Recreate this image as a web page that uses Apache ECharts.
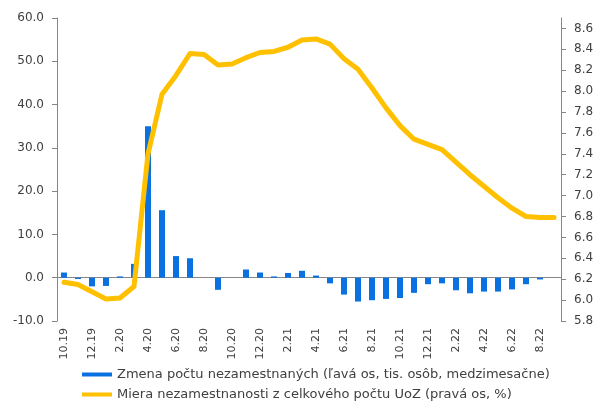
<!DOCTYPE html>
<html>
<head>
<meta charset="utf-8">
<script src="https://cdn.jsdelivr.net/npm/echarts@6/dist/echarts.min.js"></script>
<style>
  html, body { margin: 0; padding: 0; background: #fff; }
  #chart { width: 597px; height: 403px; }
</style>
</head>
<body>
<div id="chart"></div>
<script>
const months = ['10.19','11.19','12.19','1.20','2.20','3.20','4.20','5.20','6.20','7.20','8.20','9.20',
  '10.20','11.20','12.20','1.21','2.21','3.21','4.21','5.21','6.21','7.21','8.21','9.21',
  '10.21','11.21','12.21','1.22','2.22','3.22','4.22','5.22','6.22','7.22','8.22','9.22']

// zmena poctu nezamestnanych, tis. osob (lava os)
const changeUnemployed = [1.2, -0.3, -2.0, -1.9, 0.3, 3.2, 35.0, 15.6, 5.0, 4.5, 0, -2.8,
  0, 1.9, 1.2, 0.3, 1.1, 1.6, 0.5, -1.3, -3.9, -5.5, -5.2, -4.9,
  -4.7, -3.5, -1.5, -1.3, -2.9, -3.6, -3.2, -3.2, -2.7, -1.5, -0.4, null]

// miera nezamestnanosti, % (prava os)
const unemploymentRate = [6.17, 6.15, 6.08, 6.01, 6.02, 6.13, 7.40, 7.97, 8.15, 8.36, 8.35, 8.25,
  8.26, 8.32, 8.37, 8.38, 8.42, 8.49, 8.50, 8.45, 8.31, 8.21, 8.03, 7.84,
  7.67, 7.54, 7.49, 7.44, 7.32, 7.20, 7.09, 6.98, 6.88, 6.80, 6.79, 6.79]

const rightTicks = [5.8, 6.0, 6.2, 6.4, 6.6, 6.8, 7.0, 7.2, 7.4, 7.6, 7.8, 8.0, 8.2, 8.4, 8.6]

const barName = 'Zmena počtu nezamestnaných (ľavá os, tis. osôb, medzimesačne)'
const lineName = 'Miera nezamestnanosti z celkového počtu UoZ (pravá os, %)'

const font = 'DejaVu Sans'
const axisGray = '#868686'
const textGray = '#404040'

const chart = echarts.init(document.getElementById('chart'))
chart.setOption({
  animation: false,
  textStyle: { fontFamily: font },
  grid: { left: 57, right: 36, top: 18, bottom: 82, containLabel: false },
  legend: {
    orient: 'vertical',
    left: 82,
    top: 368,
    height: 50,
    padding: 0,
    icon: 'rect',
    itemWidth: 30,
    itemHeight: 4,
    itemGap: 7,
    textStyle: { fontFamily: font, fontSize: 13, color: textGray },
    data: [barName, lineName]
  },
  xAxis: [
    {
      type: 'category',
      data: months,
      position: 'top',
      axisLine: { onZero: true, lineStyle: { color: axisGray, width: 1 } },
      axisTick: { interval: 1, inside: true, length: 4, lineStyle: { color: '#333' } },
      axisLabel: { show: false }
    },
    {
      type: 'category',
      data: months,
      position: 'bottom',
      axisLine: { show: false, onZero: false },
      axisTick: { show: false },
      axisLabel: {
        interval: 1,
        rotate: 90,
        margin: 7,
        fontFamily: font,
        fontSize: 11,
        color: textGray
      }
    }
  ],
  yAxis: [
    {
      type: 'value',
      min: -10,
      max: 60,
      interval: 10,
      position: 'left',
      splitLine: { show: false },
      axisLine: { show: true, lineStyle: { color: axisGray } },
      axisTick: { show: true, length: 5, lineStyle: { color: axisGray } },
      axisLabel: {
        margin: 13,
        fontFamily: font,
        fontSize: 12,
        color: textGray,
        formatter: v => v.toFixed(1)
      }
    },
    {
      type: 'value',
      min: 5.8,
      max: 8.7,
      interval: 0.2,
      position: 'right',
      splitLine: { show: false },
      axisLine: { show: true, lineStyle: { color: axisGray } },
      axisTick: { show: true, length: 5, customValues: rightTicks, lineStyle: { color: axisGray } },
      axisLabel: {
        margin: 13,
        fontFamily: font,
        fontSize: 12,
        color: textGray,
        customValues: rightTicks,
        formatter: v => v.toFixed(1)
      }
    }
  ],
  series: [
    {
      name: barName,
      type: 'bar',
      xAxisIndex: 0,
      yAxisIndex: 0,
      data: changeUnemployed,
      barWidth: 6,
      color: '#0A72E0',
      itemStyle: { color: '#0A72E0' },
      z: 2
    },
    {
      name: lineName,
      type: 'line',
      xAxisIndex: 0,
      yAxisIndex: 1,
      data: unemploymentRate,
      showSymbol: false,
      symbol: 'none',
      color: '#FFC000',
      itemStyle: { color: '#FFC000' },
      lineStyle: { color: '#FFC000', width: 5, cap: 'round', join: 'round' },
      z: 3
    }
  ]
})
</script>
</body>
</html>
